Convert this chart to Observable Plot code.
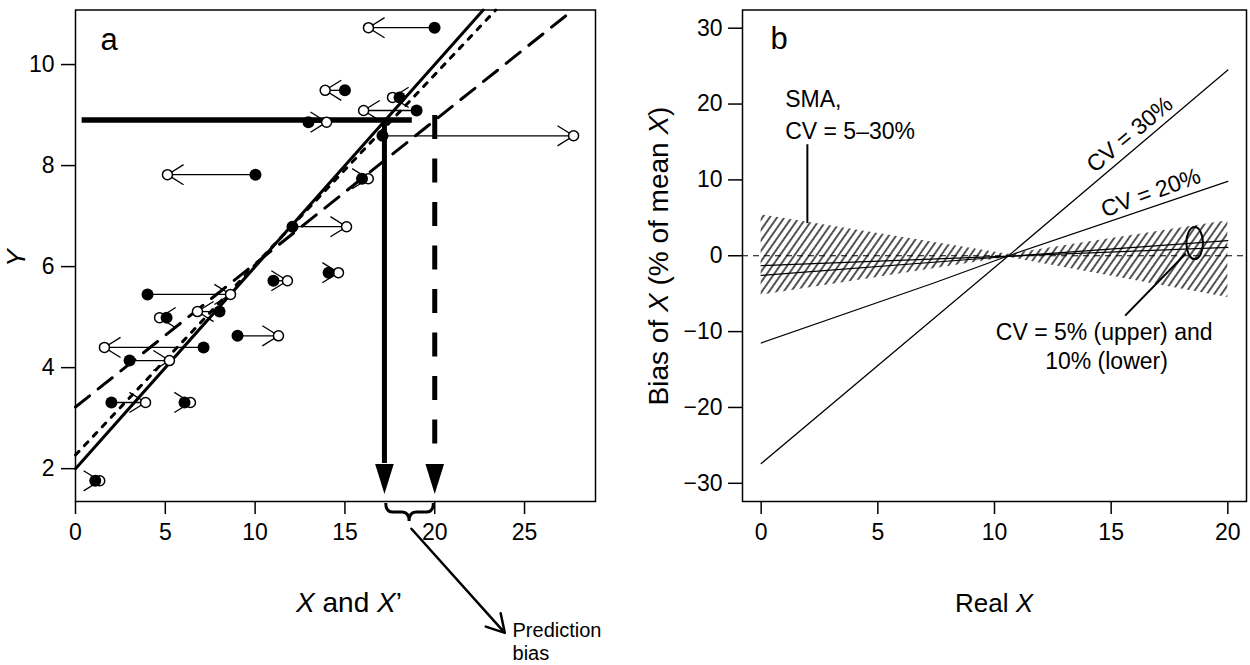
<!DOCTYPE html>
<html><head><meta charset="utf-8">
<script src="https://cdn.jsdelivr.net/npm/d3@7"></script>
<script src="https://cdn.jsdelivr.net/npm/@observablehq/plot@0.6"></script>
<style>
html,body{margin:0;padding:0;background:#fff;}
#wrap{position:relative;width:1250px;height:665px;overflow:hidden;background:#fff;}
#wrap svg{position:absolute;top:0;overflow:visible;}
</style></head><body><div id="wrap"></div>
<script>
// ---------------- Panel a data ----------------
const aTrueX = [19.99, 15.0, 18.04, 18.99, 12.97, 17.09, 10.02, 15.95, 12.08, 14.09, 11.02, 4.01, 8.02, 5.07, 9.02, 7.13, 3.01, 2.0, 6.07, 1.1];
const aObsX  = [16.31, 13.9, 17.65, 16.04, 13.98, 27.73, 5.12, 16.3, 15.09, 14.64, 11.8, 8.63, 6.79, 4.68, 11.3, 1.61, 5.23, 3.9, 6.4, 1.35];
const aY     = [10.73, 9.49, 9.35, 9.09, 8.86, 8.59, 7.82, 7.74, 6.79, 5.88, 5.72, 5.45, 5.11, 4.99, 4.63, 4.40, 4.14, 3.31, 3.31, 1.76];
const aSolidX = [0, 22.7],  aSolidY = [2.0, 11.08];
const aDottedX = [0, 23.4], aDottedY = [2.27, 11.08];
const aDashedX = [0, 27.7], aDashedY = [3.22, 11.08];
const aPredY = 8.9;
const aPredLineX = [0.37, 18.75];
const aPredX = [17.2, 20.0];          // solid, dashed
const aArrowTipY = 1.5, aArrowBaseY = 2.1, aDashedTopY = 8.99;
const aBraceX = [17.3, 19.95], aBraceMid = 18.6;
const aBiasArrow = [{x1: 18.7, y1: 0.81, x2: 23.9, y2: -1.25}];
const aBiasText = ["Prediction", "bias"];
const aBiasTextX = 24.33, aBiasTextY = [-1.33, -1.79];
const aTicksX = [0, 5, 10, 15, 20, 25];
const aTicksY = [2, 4, 6, 8, 10];

// ---------------- Panel b data ----------------
const bX = [0, 10.6, 20];
const bCV30 = [-27.4, 0, 24.5];
const bCV20X = [0, 7.4, 10.6, 20];
const bCV20 = [-11.5, -3.6, 0, 9.8];
const bCV10 = [-2.6, -0.1, 2.0];
const bCV5 = [-1.3, -0.05, 1.1];
const bSmaHi = [5.4, 0.2, 4.6];
const bSmaLo = [-5.2, -0.2, -5.5];
const bEllipse = {x: 18.6, y: 1.6};
const bLeaders = [{x1: 1.98, y1: 14.7, x2: 1.98, y2: 4.3}, {x1: 18.2, y1: 0.3, x2: 15.6, y2: -7.9}];
const bLabelsLeft = [
  {t: "SMA,", x: 1.03, y: 20.6},
  {t: "CV = 5–30%", x: 1.03, y: 16.4}
];
const bLabelsMid = [
  {t: "CV = 5% (upper) and", x: 14.7, y: -10.07},
  {t: "10% (lower)", x: 14.8, y: -13.9}
];
const bRotLabels = [
  {t: "CV = 30%", x: 15.8, y: 16.0, r: -40},
  {t: "CV = 20%", x: 16.7, y: 8.3, r: -20}
];
const bTicksX = [0, 5, 10, 15, 20];
const bTicksY = [-30, -20, -10, 0, 10, 20, 30];

// ---------------- helpers ----------------
const FONT = "'Liberation Sans', Arial, Helvetica, sans-serif";
const fmt = d => d < 0 ? "\u2212" + (-d) : String(d);
const toPts = (xs, ys) => xs.map((x, i) => ({x, y: ys[i]}));
const L = 19, ang = 32 * Math.PI / 180;
const chevR = {draw(c) { c.moveTo(-L * Math.cos(ang), -L * Math.sin(ang)); c.lineTo(0, 0); c.lineTo(-L * Math.cos(ang), L * Math.sin(ang)); }};
const chevL = {draw(c) { c.moveTo(L * Math.cos(ang), -L * Math.sin(ang)); c.lineTo(0, 0); c.lineTo(L * Math.cos(ang), L * Math.sin(ang)); }};
const triDown = {draw(c) { c.moveTo(0, 0); c.lineTo(-9.3, -30); c.lineTo(9.3, -30); c.closePath(); }};

const ptsA = aTrueX.map((x, i) => ({xt: x, xo: aObsX[i], y: aY[i], dir: aObsX[i] >= x ? 1 : -1}));
const wrap = document.getElementById("wrap");

// ---------------- Panel a ----------------
const svgA = Plot.plot({
  width: 640, height: 665,
  marginLeft: 75, marginRight: 45, marginTop: 9.5, marginBottom: 164,
  x: {domain: [0, 28.95]},
  y: {domain: [1.35, 11.08]},
  style: {fontFamily: FONT, fontSize: "23px", color: "black", background: "none", overflow: "visible"},
  marks: [
    Plot.axisX({ticks: aTicksX, tickSize: 13, tickPadding: 9, fontSize: 23, strokeWidth: 1.5, label: null, tickFormat: fmt}),
    Plot.axisY({ticks: aTicksY, tickSize: 14, tickPadding: 7, fontSize: 23, strokeWidth: 1.5, label: null, tickFormat: fmt}),
    Plot.line(toPts(aSolidX, aSolidY), {x: "x", y: "y", stroke: "black", strokeWidth: 3}),
    Plot.line(toPts(aDottedX, aDottedY), {x: "x", y: "y", stroke: "black", strokeWidth: 3, strokeDasharray: "5,8"}),
    Plot.line(toPts(aDashedX, aDashedY), {x: "x", y: "y", stroke: "black", strokeWidth: 3, strokeDasharray: "18,11"}),
    Plot.ruleY([aPredY], {x1: aPredLineX[0], x2: aPredLineX[1], stroke: "black", strokeWidth: 5.5}),
    Plot.ruleX([aPredX[0]], {y1: aPredY, y2: aArrowBaseY, stroke: "black", strokeWidth: 5}),
    Plot.ruleX([aPredX[1]], {y1: aDashedTopY, y2: aArrowBaseY, stroke: "black", strokeWidth: 5, strokeDasharray: "24,19.5"}),
    Plot.dot(aPredX, {x: d => d, y: aArrowTipY, symbol: triDown, fill: "black"}),
    Plot.link(ptsA, {x1: "xt", x2: "xo", y1: "y", y2: "y", stroke: "black", strokeWidth: 1.3}),
    Plot.dot(ptsA.filter(d => d.dir > 0), {x: "xo", y: "y", symbol: chevR, fill: "none", stroke: "black", strokeWidth: 1.3}),
    Plot.dot(ptsA.filter(d => d.dir < 0), {x: "xo", y: "y", symbol: chevL, fill: "none", stroke: "black", strokeWidth: 1.3}),
    Plot.dot(ptsA, {x: "xo", y: "y", r: 5, fill: "white", stroke: "black", strokeWidth: 1.5}),
    Plot.dot(ptsA, {x: "xt", y: "y", r: 6, fill: "black"}),
    Plot.frame({stroke: "black", strokeWidth: 1.5}),
    Plot.text(["a"], {frameAnchor: "top-left", dx: 25, dy: 39.5, textAnchor: "start", lineAnchor: "bottom", fontSize: 31}),
    (index, {x}, values, {height, marginBottom}) => {
      const x1 = x(aBraceX[0]), x2 = x(aBraceX[1]), xm = x(aBraceMid), yb = height - marginBottom;
      const p = `M${x1},${yb + 2} Q${x1},${yb + 11} ${x1 + 7},${yb + 11} L${xm - 7},${yb + 11} Q${xm},${yb + 11} ${xm},${yb + 20} Q${xm},${yb + 11} ${xm + 7},${yb + 11} L${x2 - 7},${yb + 11} Q${x2},${yb + 11} ${x2},${yb + 2}`;
      return d3.create("svg:path").attr("d", p).attr("fill", "none").attr("stroke", "black").attr("stroke-width", 3).node();
    },
    Plot.arrow(aBiasArrow, {x1: "x1", y1: "y1", x2: "x2", y2: "y2", stroke: "black", strokeWidth: 2.5, headLength: 12, headAngle: 60}),
    Plot.text(aBiasText, {x: aBiasTextX, y: (d, i) => aBiasTextY[i], text: d => d, textAnchor: "start", lineAnchor: "bottom", fontSize: 20})
  ]
});
svgA.style.left = "0px";
wrap.appendChild(svgA);

// ---------------- Panel b ----------------
const band = bX.map((x, i) => ({x, hi: bSmaHi[i], lo: bSmaLo[i]}));
const svgB = Plot.plot({
  width: 610, height: 665,
  marginLeft: 102, marginRight: 4, marginTop: 9.5, marginBottom: 164,
  x: {domain: [-0.8, 20.8]},
  y: {domain: [-32.4, 32.4]},
  style: {fontFamily: FONT, fontSize: "23px", color: "black", background: "none", overflow: "visible"},
  marks: [
    Plot.axisX({ticks: bTicksX, tickSize: 13, tickPadding: 9, fontSize: 23, strokeWidth: 1.5, label: null, tickFormat: fmt}),
    Plot.axisY({ticks: bTicksY, tickSize: 14, tickPadding: 6, fontSize: 23, strokeWidth: 1.5, label: null, tickFormat: fmt}),
    Plot.areaY(band, {x: "x", y1: "lo", y2: "hi", fill: "url(#hatch)"}),
    Plot.ruleY([0], {stroke: "black", strokeWidth: 1, strokeDasharray: "6,5"}),
    Plot.line(toPts(bX, bCV30), {x: "x", y: "y", stroke: "black", strokeWidth: 1.2}),
    Plot.line(toPts(bCV20X, bCV20), {x: "x", y: "y", stroke: "black", strokeWidth: 1.2}),
    Plot.line(toPts(bX, bCV10), {x: "x", y: "y", stroke: "black", strokeWidth: 1.2}),
    Plot.line(toPts(bX, bCV5), {x: "x", y: "y", stroke: "black", strokeWidth: 1.2}),
    Plot.link(bLeaders, {x1: "x1", y1: "y1", x2: "x2", y2: "y2", stroke: "black", strokeWidth: 2}),
    (index, {x, y}) => d3.create("svg:ellipse").attr("cx", x(bEllipse.x)).attr("cy", y(bEllipse.y))
        .attr("rx", 8.3).attr("ry", 16).attr("fill", "none").attr("stroke", "black").attr("stroke-width", 2).node(),
    Plot.text(bLabelsLeft, {x: "x", y: "y", text: "t", textAnchor: "start", fontSize: 23}),
    Plot.text(bLabelsMid, {x: "x", y: "y", text: "t", textAnchor: "middle", fontSize: 23}),
    Plot.text(bRotLabels.filter((d, i) => i === 0), {x: "x", y: "y", text: "t", rotate: bRotLabels[0].r, fontSize: 23}),
    Plot.text(bRotLabels.filter((d, i) => i === 1), {x: "x", y: "y", text: "t", rotate: bRotLabels[1].r, fontSize: 23}),
    Plot.frame({stroke: "black", strokeWidth: 1.5}),
    Plot.text(["b"], {frameAnchor: "top-left", dx: 28, dy: 38.5, textAnchor: "start", lineAnchor: "bottom", fontSize: 31})
  ]
});
svgB.style.left = "640px";
wrap.appendChild(svgB);

d3.select(svgB).insert("defs", ":first-child").html(
  '<pattern id="hatch" patternUnits="userSpaceOnUse" width="6" height="6" patternTransform="rotate(35)">' +
  '<line x1="3" y1="-1" x2="3" y2="7" stroke="black" stroke-width="1.35"/></pattern>');

// ---------------- axis titles ----------------
function title(svg, x, y, parts, rotate, size) {
  const t = d3.select(svg).append("text")
    .attr("transform", `translate(${x},${y})` + (rotate ? ` rotate(${rotate})` : ""))
    .attr("text-anchor", "middle").attr("dy", rotate ? "0.35em" : 0)
    .attr("font-family", FONT).attr("font-size", size).attr("fill", "black");
  parts.forEach(([s, it]) => t.append("tspan").text(s).attr("font-style", it ? "italic" : "normal"));
}
title(svgA, 16, 258, [["Y", true]], -90, 26);
title(svgA, 349, 612, [["X", true], [" and ", false], ["X", true], ["\u2019", false]], 0, 28);
title(svgB, 18, 256, [["Bias of ", false], ["X", true], [" (% of mean ", false], ["X", true], [")", false]], -90, 28);
title(svgB, 354, 612, [["Real ", false], ["X", true]], 0, 26);
</script></body></html>
